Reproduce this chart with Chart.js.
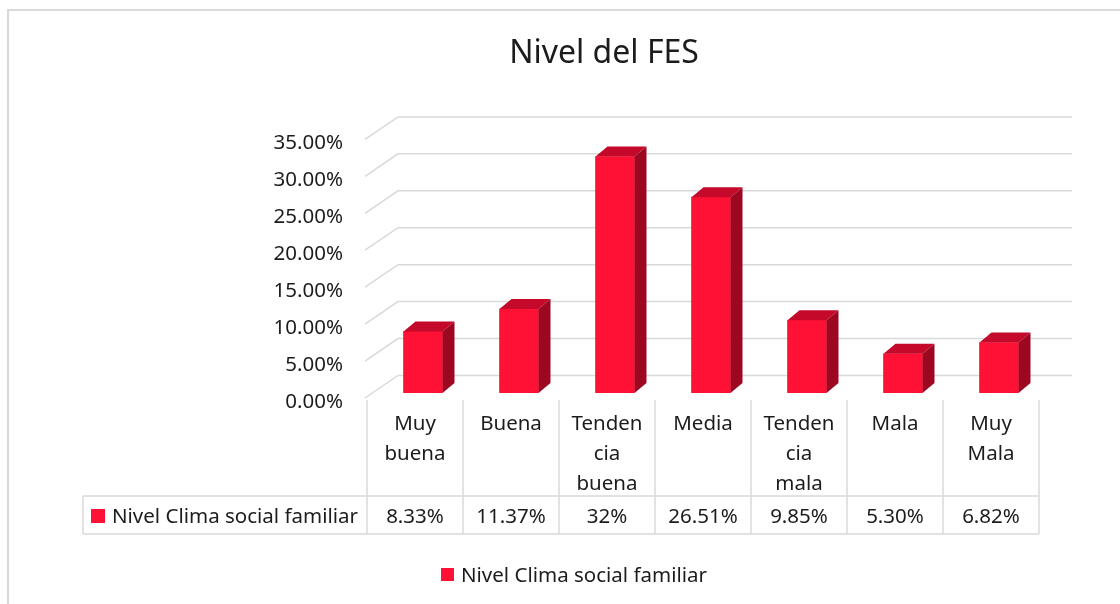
<!DOCTYPE html>
<html>
<head>
<meta charset="utf-8">
<script src="https://cdn.jsdelivr.net/npm/chart.js@4.4.1/dist/chart.umd.min.js"></script>
<style>
html, body { margin: 0; padding: 0; background: #fff; overflow: hidden; }
#frame { position: absolute; left: 7px; top: 9px; width: 1200px; height: 700px; border-left: 2px solid #d9d9d9; border-top: 2px solid #d9d9d9; }
#wrap { position: absolute; left: 0; top: 0; width: 1120px; height: 604px; }
</style>
</head>
<body>
<div id="frame"></div>
<div id="wrap"><canvas id="fesChart"></canvas></div>
<script>
// datos del gráfico
const categories = [['Muy', 'buena'], ['Buena'], ['Tenden', 'cia', 'buena'], ['Media'], ['Tenden', 'cia', 'mala'], ['Mala'], ['Muy', 'Mala']];
const seriesName = 'Nivel Clima social familiar';
const values = [8.33, 11.37, 32, 26.51, 9.85, 5.30, 6.82];
const valueLabels = ['8.33%', '11.37%', '32%', '26.51%', '9.85%', '5.30%', '6.82%'];
const yTicks = [0, 5, 10, 15, 20, 25, 30, 35];

// colores
const FRONT = '#ff1035';
const TOP = '#c4092b';
const SIDE = '#9c0820';
const GRID = '#d9d9d9';
const TEXT = '#1c1c1c';

Chart.defaults.font.family = '"Noto Sans", sans-serif';

// profundidad de las barras 3D
const DX = 12, DY = -10;

const fes3d = {
    id: 'fes3d',
    // líneas de cuadrícula en perspectiva
    beforeDatasetsDraw(chart) {
        const { ctx, chartArea: a, scales: { y } } = chart;
        ctx.save();
        ctx.strokeStyle = GRID;
        ctx.lineWidth = 1.5;
        y.ticks.forEach(t => {
            const p = y.getPixelForValue(t.value);
            ctx.beginPath();
            ctx.moveTo(a.left - 10, p + 5);
            ctx.lineTo(a.left + 23, p - 17.5);
            ctx.lineTo(a.right + 25, p - 17.5);
            ctx.stroke();
        });
        ctx.restore();
    },
    // caras superior y lateral
    afterDatasetsDraw(chart) {
        const { ctx } = chart;
        ctx.save();
        chart.getDatasetMeta(0).data.forEach(bar => {
            const { x, y, base, width } = bar.getProps(['x', 'y', 'base', 'width'], true);
            const l = x - width / 2, r = x + width / 2;
            ctx.fillStyle = TOP;
            ctx.beginPath();
            ctx.moveTo(l, y); ctx.lineTo(l + DX, y + DY); ctx.lineTo(r + DX, y + DY); ctx.lineTo(r, y);
            ctx.closePath(); ctx.fill();
            ctx.fillStyle = SIDE;
            ctx.beginPath();
            ctx.moveTo(r, y); ctx.lineTo(r + DX, y + DY); ctx.lineTo(r + DX, base + DY); ctx.lineTo(r, base);
            ctx.closePath(); ctx.fill();
        });
        ctx.restore();
    },
    // tabla de datos y leyenda
    afterDraw(chart) {
        const { ctx, scales: { x } } = chart;
        const colW = x.getPixelForValue(1) - x.getPixelForValue(0);
        const colLeft = i => x.getPixelForValue(0) - 8 - colW / 2 + i * colW;
        const n = categories.length;
        ctx.save();
        ctx.strokeStyle = GRID;
        ctx.lineWidth = 1.5;
        ctx.beginPath();
        for (let i = 0; i <= n; i++) {
            ctx.moveTo(colLeft(i), 400);
            ctx.lineTo(colLeft(i), 534);
        }
        ctx.moveTo(83, 496); ctx.lineTo(colLeft(n), 496);
        ctx.moveTo(83, 534); ctx.lineTo(colLeft(n), 534);
        ctx.moveTo(83, 496); ctx.lineTo(83, 534);
        ctx.stroke();

        ctx.fillStyle = TEXT;
        ctx.font = '20.5px "Noto Sans"';
        ctx.textAlign = 'center';
        ctx.textBaseline = 'middle';
        categories.forEach((lines, i) => {
            const cx = colLeft(i) + colW / 2;
            lines.forEach((t, j) => ctx.fillText(t, cx, 424 + j * 30));
            ctx.fillText(valueLabels[i], cx, 517);
        });

        ctx.textAlign = 'left';
        ctx.fillText(seriesName, 112, 517);
        ctx.fillText(seriesName, 461, 576);
        ctx.fillStyle = FRONT;
        ctx.fillRect(91, 509, 14, 14);
        ctx.fillRect(441, 568, 13, 13);
        ctx.restore();
    }
};

new Chart(document.getElementById('fesChart'), {
    type: 'bar',
    data: {
        labels: categories,
        datasets: [{
            label: seriesName,
            data: values,
            backgroundColor: FRONT,
            barThickness: 39
        }]
    },
    options: {
        responsive: true,
        maintainAspectRatio: false,
        animation: false,
        layout: { padding: { left: 161, right: 73, top: 0, bottom: 0 } },
        scales: {
            x: {
                grid: { display: false, drawTicks: false },
                border: { display: false },
                ticks: { display: false },
                afterFit: s => { s.height = 211; }
            },
            y: {
                min: yTicks[0],
                max: yTicks[yTicks.length - 1],
                afterBuildTicks: s => { s.ticks = yTicks.map(v => ({ value: v })); },
                afterFit: s => { s.width = 214; },
                grid: { display: false, drawTicks: false },
                border: { display: false },
                ticks: {
                    padding: 32,
                    labelOffset: 9,
                    color: TEXT,
                    font: { size: 20.5 },
                    callback: v => v.toFixed(2) + '%'
                }
            }
        },
        plugins: {
            legend: { display: false },
            tooltip: { enabled: false },
            title: {
                display: true,
                text: 'Nivel del FES',
                color: TEXT,
                font: { size: 32, weight: 'normal' },
                padding: { top: 35, bottom: 61 }
            }
        }
    },
    plugins: [fes3d]
});
</script>
</body>
</html>
